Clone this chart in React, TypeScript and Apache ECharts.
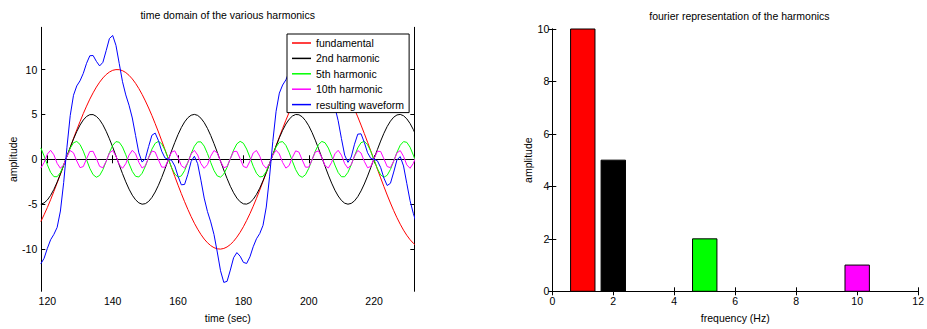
import React, { useEffect, useRef } from 'react';
import * as echarts from 'echarts';

// sample index (x axis, "time (sec)")
const time = [
  118, 119, 120, 121, 122, 123, 124, 125, 126, 127, 128, 129, 130, 131, 132, 133, 134, 135, 136, 137,
  138, 139, 140, 141, 142, 143, 144, 145, 146, 147, 148, 149, 150, 151, 152, 153, 154, 155, 156, 157,
  158, 159, 160, 161, 162, 163, 164, 165, 166, 167, 168, 169, 170, 171, 172, 173, 174, 175, 176, 177,
  178, 179, 180, 181, 182, 183, 184, 185, 186, 187, 188, 189, 190, 191, 192, 193, 194, 195, 196, 197,
  198, 199, 200, 201, 202, 203, 204, 205, 206, 207, 208, 209, 210, 211, 212, 213, 214, 215, 216, 217,
  218, 219, 220, 221, 222, 223, 224, 225, 226, 227, 228, 229, 230, 231, 232, 233,
];

const fundamental = [
  -6.94, -6.18, -5.37, -4.5, -3.58, -2.63, -1.66, -0.66, 0.34, 1.33, 2.32, 3.28, 4.2, 5.09, 5.92, 6.7, 7.4, 8.04, 8.59, 9.06,
  9.44, 9.72, 9.91, 9.99, 9.98, 9.87, 9.66, 9.35, 8.95, 8.46, 7.88, 7.23, 6.5, 5.71, 4.87, 3.97, 3.04, 2.07, 1.08, 0.08,
  -0.92, -1.91, -2.88, -3.82, -4.72, -5.58, -6.38, -7.12, -7.78, -8.37, -8.88, -9.29, -9.61, -9.84, -9.97, -10.0, -9.93, -9.76, -9.49, -9.13,
  -8.67, -8.13, -7.51, -6.81, -6.05, -5.23, -4.35, -3.43, -2.47, -1.49, -0.5, 0.5, 1.5, 2.48, 3.43, 4.35, 5.23, 6.06, 6.82, 7.52,
  8.14, 8.68, 9.13, 9.49, 9.76, 9.93, 10.0, 9.97, 9.84, 9.61, 9.29, 8.87, 8.37, 7.78, 7.11, 6.37, 5.57, 4.72, 3.81, 2.87,
  1.9, 0.91, -0.09, -1.09, -2.07, -3.04, -3.98, -4.87, -5.72, -6.51, -7.23, -7.89, -8.46, -8.95, -9.35, -9.66,
];

const harmonic2 = [
  -5.0, -4.86, -4.53, -4.02, -3.35, -2.54, -1.63, -0.66, 0.34, 1.32, 2.25, 3.09, 3.81, 4.38, 4.77, 4.97, 4.98, 4.78, 4.4, 3.84,
  3.12, 2.28, 1.36, 0.37, -0.63, -1.6, -2.51, -3.32, -4.0, -4.51, -4.85, -5.0, -4.94, -4.69, -4.25, -3.64, -2.89, -2.02, -1.07, -0.08,
  0.92, 1.87, 2.76, 3.53, 4.16, 4.63, 4.91, 5.0, 4.89, 4.58, 4.09, 3.44, 2.65, 1.75, 0.79, -0.21, -1.2, -2.14, -3.0, -3.73,
  -4.32, -4.73, -4.96, -4.99, -4.82, -4.46, -3.91, -3.22, -2.39, -1.47, -0.5, 0.5, 1.48, 2.4, 3.22, 3.92, 4.46, 4.82, 4.99, 4.96,
  4.73, 4.31, 3.73, 2.99, 2.13, 1.19, 0.2, -0.79, -1.76, -2.65, -3.44, -4.09, -4.58, -4.89, -5.0, -4.91, -4.63, -4.16, -3.52, -2.75,
  -1.87, -0.91, 0.09, 1.08, 2.03, 2.9, 3.65, 4.25, 4.69, 4.94, 5.0, 4.85, 4.51, 3.99, 3.31, 2.5,
];

const harmonic5 = [
  1.27, 0.38, -0.61, -1.45, -1.93, -1.94, -1.48, -0.65, 0.34, 1.24, 1.84, 1.99, 1.65, 0.91, -0.05, -1.01, -1.71, -2.0, -1.8, -1.15,
  -0.23, 0.75, 1.55, 1.97, 1.9, 1.37, 0.51, -0.48, -1.35, -1.89, -1.97, -1.56, -0.78, 0.2, 1.13, 1.78, 2.0, 1.73, 1.03, 0.08,
  -0.89, -1.64, -1.99, -1.85, -1.26, -0.36, 0.63, 1.46, 1.94, 1.94, 1.47, 0.64, -0.35, -1.25, -1.85, -1.99, -1.64, -0.9, 0.07, 1.02,
  1.72, 2.0, 1.79, 1.14, 0.21, -0.77, -1.56, -1.97, -1.9, -1.36, -0.49, 0.5, 1.37, 1.9, 1.97, 1.55, 0.76, -0.22, -1.15, -1.79,
  -2.0, -1.72, -1.01, -0.06, 0.9, 1.65, 1.99, 1.84, 1.25, 0.34, -0.64, -1.47, -1.94, -1.94, -1.45, -0.62, 0.37, 1.27, 1.85, 1.99,
  1.63, 0.88, -0.09, -1.04, -1.73, -2.0, -1.78, -1.13, -0.2, 0.78, 1.57, 1.97, 1.89, 1.35, 0.47, -0.52,
];

const harmonic10 = [
  -0.98, -0.37, 0.58, 1.0, 0.5, -0.46, -1.0, -0.62, 0.33, 0.97, 0.72, -0.19, -0.93, -0.81, 0.05, 0.87, 0.89, 0.09, -0.79, -0.94,
  -0.23, 0.7, 0.98, 0.36, -0.59, -1.0, -0.49, 0.47, 1.0, 0.61, -0.34, -0.97, -0.71, 0.2, 0.93, 0.81, -0.06, -0.87, -0.88, -0.08,
  0.8, 0.94, 0.22, -0.7, -0.98, -0.36, 0.59, 1.0, 0.48, -0.48, -1.0, -0.6, 0.35, 0.98, 0.71, -0.21, -0.94, -0.8, 0.07, 0.88,
  0.88, 0.07, -0.8, -0.94, -0.21, 0.71, 0.98, 0.35, -0.6, -1.0, -0.48, 0.48, 1.0, 0.6, -0.35, -0.98, -0.7, 0.22, 0.94, 0.8,
  -0.08, -0.88, -0.87, -0.06, 0.81, 0.93, 0.2, -0.71, -0.97, -0.34, 0.61, 1.0, 0.47, -0.49, -1.0, -0.59, 0.36, 0.98, 0.7, -0.23,
  -0.94, -0.79, 0.09, 0.89, 0.87, 0.05, -0.81, -0.93, -0.19, 0.72, 0.97, 0.33, -0.62, -1.0, -0.46, 0.5,
];

const resulting = [
  -11.64, -11.03, -9.92, -8.96, -8.36, -7.58, -5.76, -2.59, 1.34, 4.86, 7.13, 8.17, 8.74, 9.57, 10.69, 11.53, 11.56, 10.91, 10.4, 10.8,
  12.1, 13.45, 13.79, 12.69, 10.67, 8.64, 7.17, 6.02, 4.6, 2.66, 0.72, -0.31, 0.07, 1.43, 2.68, 2.92, 2.08, 0.9, 0.15, 0.0,
  -0.1, -0.74, -1.89, -2.84, -2.8, -1.67, -0.25, 0.34, -0.48, -2.33, -4.32, -5.82, -6.97, -8.37, -10.32, -12.41, -13.71, -13.59, -12.34, -10.96,
  -10.39, -10.79, -11.48, -11.6, -10.86, -9.74, -8.85, -8.27, -7.36, -5.32, -1.96, 1.99, 5.35, 7.37, 8.27, 8.85, 9.74, 10.87, 11.6, 11.48,
  10.79, 10.39, 10.97, 12.36, 13.6, 13.7, 12.39, 10.3, 8.35, 6.96, 5.81, 4.3, 2.31, 0.46, -0.34, 0.26, 1.68, 2.8, 2.84, 1.88,
  0.73, 0.09, 0.0, -0.16, -0.91, -2.09, -2.92, -2.67, -1.42, -0.06, 0.3, -0.74, -2.68, -4.61, -6.03, -7.17,
];

const seriesNames = ['fundamental', '2nd harmonic', '5th harmonic', '10th harmonic', 'resulting waveform'];
const seriesColors = ['#ff0000', '#000000', '#00ff00', '#ff00ff', '#0000ff'];

// fourier representation
const frequencies = [1, 2, 5, 10];
const amplitudes = [10, 5, 2, 1];
const barColors = ['#ff0000', '#000000', '#00ff00', '#ff00ff'];

const timeTicks = [120, 140, 160, 180, 200, 220];
const amplitudeTicks = [-10, -5, 0, 5, 10];

const FONT = "'Liberation Sans', Arial, sans-serif";
const FS = 10.5;
const BAR_WIDTH = 0.8;

export default function App() {
  const ref = useRef<HTMLDivElement>(null);

  useEffect(() => {
    if (!ref.current) return;
    const chart = echarts.init(ref.current, null, { renderer: 'svg' });
    const txt = { color: '#000', fontFamily: FONT, fontSize: FS };
    const line = { lineStyle: { color: '#000', width: 1 } };

    const seriesData = [fundamental, harmonic2, harmonic5, harmonic10, resulting];

    const option: any = {
      animation: false,
      backgroundColor: '#fff',
      title: [
        {
          text: 'time domain of the various harmonics',
          left: 227.7,
          top: 9,
          textAlign: 'center',
          padding: 0,
          textStyle: { ...txt, fontWeight: 'normal' },
        },
        {
          text: 'fourier representation of the harmonics',
          left: 739.4,
          top: 10,
          textAlign: 'center',
          padding: 0,
          textStyle: { ...txt, fontWeight: 'normal' },
        },
      ],
      legend: {
        data: seriesNames,
        orient: 'vertical',
        left: 287,
        top: 34,
        z: 20,
        padding: [3, 5, 2, 5],
        icon: 'rect',
        itemWidth: 19,
        itemHeight: 1.5,
        itemGap: 3.4,
        backgroundColor: '#fff',
        borderColor: '#000',
        borderWidth: 1,
        borderRadius: 0,
        selectedMode: false,
        textStyle: { ...txt, lineHeight: 12 },
      },
      grid: [
        { left: 41.3, top: 27.3, width: 373, height: 264, containLabel: false },
        { left: 552.3, top: 29, width: 374.2, height: 262.3, containLabel: false },
      ],
      xAxis: [
        {
          gridIndex: 0,
          type: 'value',
          position: 'bottom',
          min: 118.15,
          max: 232.3,
          axisLine: line,
          axisTick: { inside: true, length: 4, customValues: timeTicks, ...line },
          axisLabel: { customValues: timeTicks, margin: 4, ...txt },
          splitLine: { show: false },
          name: 'time (sec)',
          nameLocation: 'middle',
          nameGap: 21,
          nameTextStyle: txt,
        },
        {
          gridIndex: 0,
          type: 'value',
          position: 'top',
          min: 118.15,
          max: 232.3,
          axisLine: line,
          axisTick: { inside: true, length: 4, customValues: timeTicks, ...line },
          axisLabel: { show: false },
          splitLine: { show: false },
        },
        {
          gridIndex: 1,
          type: 'value',
          position: 'bottom',
          min: 0,
          max: 12,
          interval: 2,
          axisLine: line,
          axisTick: { inside: true, length: 4, ...line },
          axisLabel: { margin: 4, ...txt },
          splitLine: { show: false },
          name: 'frequency (Hz)',
          nameLocation: 'middle',
          nameGap: 21,
          nameTextStyle: txt,
        },
        {
          gridIndex: 1,
          type: 'value',
          position: 'top',
          min: 0,
          max: 12,
          interval: 2,
          axisLine: line,
          axisTick: { inside: true, length: 4, ...line },
          axisLabel: { show: false },
          splitLine: { show: false },
        },
      ],
      yAxis: [
        {
          gridIndex: 0,
          type: 'value',
          position: 'left',
          min: -14.7,
          max: 14.7,
          axisLine: line,
          axisTick: { inside: true, length: 4, customValues: amplitudeTicks, ...line },
          axisLabel: { customValues: amplitudeTicks, margin: 4, ...txt },
          splitLine: { show: false },
          name: 'amplitude',
          nameLocation: 'middle',
          nameRotate: 90,
          nameGap: 21,
          nameTextStyle: txt,
        },
        {
          gridIndex: 0,
          type: 'value',
          position: 'right',
          min: -14.7,
          max: 14.7,
          axisLine: line,
          axisTick: { inside: true, length: 4, customValues: amplitudeTicks, ...line },
          axisLabel: { show: false },
          splitLine: { show: false },
        },
        {
          gridIndex: 1,
          type: 'value',
          position: 'left',
          min: 0,
          max: 10,
          interval: 2,
          axisLine: line,
          axisTick: { inside: true, length: 4, ...line },
          axisLabel: { margin: 3, ...txt },
          splitLine: { show: false },
          name: 'amplitude',
          nameLocation: 'middle',
          nameRotate: 90,
          nameGap: 19,
          nameTextStyle: txt,
        },
        {
          gridIndex: 1,
          type: 'value',
          position: 'right',
          min: 0,
          max: 10,
          interval: 2,
          axisLine: line,
          axisTick: { inside: true, length: 4, ...line },
          axisLabel: { show: false },
          splitLine: { show: false },
        },
      ],
      series: [
        ...seriesNames.map((name, s) => ({
          name,
          type: 'line',
          xAxisIndex: 0,
          yAxisIndex: 0,
          data: time.map((t, k) => [t, seriesData[s][k]]),
          symbol: 'none',
          showSymbol: false,
          silent: true,
          color: seriesColors[s],
          lineStyle: { color: seriesColors[s], width: 1 },
        })),
        {
          name: 'spectrum',
          type: 'custom',
          xAxisIndex: 2,
          yAxisIndex: 2,
          silent: true,
          data: frequencies.map((f, k) => [f, amplitudes[k]]),
          renderItem: (params: any, api: any) => {
            const f = api.value(0);
            const a = api.value(1);
            const p0 = api.coord([f - BAR_WIDTH / 2, a]);
            const p1 = api.coord([f + BAR_WIDTH / 2, 0]);
            return {
              type: 'rect',
              shape: { x: p0[0], y: p0[1], width: p1[0] - p0[0], height: p1[1] - p0[1] },
              style: { fill: barColors[params.dataIndex], stroke: '#000', lineWidth: 1 },
            };
          },
        },
      ],
    };

    chart.setOption(option);
    return () => chart.dispose();
  }, []);

  return (
    <div
      ref={ref}
      style={{ position: 'fixed', left: 0, top: 0, width: 927, height: 329, background: '#fff' }}
    />
  );
}
